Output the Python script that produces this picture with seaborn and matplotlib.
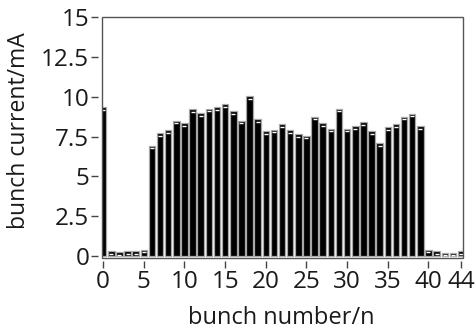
import matplotlib
matplotlib.use("Agg")
import matplotlib.pyplot as plt
from matplotlib.patches import Rectangle
import seaborn as sns
import pandas as pd

bunch = list(range(45))
current = [9.34, 0.31, 0.25, 0.31, 0.31, 0.42, 6.94, 7.71, 7.92, 8.50,
           8.33, 9.21, 8.96, 9.25, 9.34, 9.52, 9.08, 8.50, 10.04, 8.58,
           7.83, 7.94, 8.27, 7.92, 7.67, 7.56, 8.75, 8.33, 8.00, 9.25,
           8.00, 8.17, 8.42, 7.83, 7.08, 8.08, 8.27, 8.75, 8.94, 8.17,
           0.42, 0.31, 0.23, 0.23, 0.33]
xticks = [0, 5, 10, 15, 20, 25, 30, 35, 40, 44]
yticks = [0, 2.5, 5, 7.5, 10, 12.5, 15]
ytick_labels = ["0", "2.5", "5", "7.5", "10", "12.5", "15"]

df = pd.DataFrame({"bunch": bunch, "current": current})

sns.set_theme(style="white")
plt.rcParams["font.family"] = ["Open Sans", "DejaVu Sans"]

fig = plt.figure(figsize=(4.75, 3.29), dpi=100)
ax = fig.add_axes([0.2137, 0.216, 0.974 - 0.2137, 0.949 - 0.216])

sns.barplot(data=df, x="bunch", y="current", color="black", saturation=1,
            width=0.8, edgecolor="#a8a8a8", linewidth=0.9, ax=ax, native_scale=True)
# small white highlight near the top of each bar
ax.scatter(df["bunch"], df["current"] - 0.17, marker="_", color="white",
           s=9, linewidths=1.0, zorder=5)

ax.set_xlim(-0.2, 44.2)
ax.set_ylim(-0.1, 15)
ax.set_xticks(xticks)
ax.set_xticklabels([str(t) for t in xticks])
ax.set_yticks(yticks)
ax.set_yticklabels(ytick_labels)

# detached ticks: move (hidden) left/bottom spines outward, draw frame separately
for side in ["left", "bottom"]:
    ax.spines[side].set_position(("outward", 2.4))
    ax.spines[side].set_visible(False)
for side in ["top", "right"]:
    ax.spines[side].set_visible(False)
frame = Rectangle((0, 0), 1, 1, transform=ax.transAxes, fill=False,
                  edgecolor="#555555", linewidth=1.0, clip_on=False, zorder=6)
ax.add_patch(frame)

ax.tick_params(axis="both", which="major", direction="out", length=5, width=1,
               color="#444444", labelsize=17.5, labelcolor="#1a1a1a", pad=1.5,
               bottom=True, left=True)
ax.set_xlabel("bunch number/n", fontsize=17, color="#1a1a1a", va="baseline")
ax.xaxis.set_label_coords(0.497, -0.272)
ax.set_ylabel("bunch current/mA", fontsize=16.5, color="#1a1a1a", va="center")
ax.yaxis.set_label_coords(-0.2285, 0.526)

fig.savefig("out.png", dpi=100)
